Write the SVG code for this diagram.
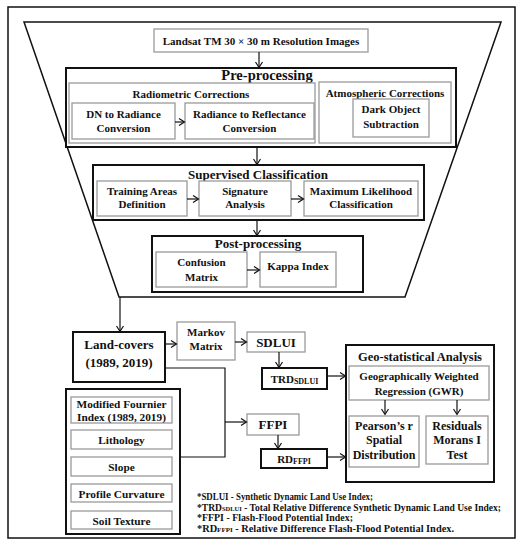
<svg xmlns="http://www.w3.org/2000/svg" width="525" height="550" viewBox="0 0 525 550">
<defs>
<style>
text{font-family:"Liberation Serif","Times New Roman",serif;font-weight:bold;fill:#111;text-anchor:middle}
.g{fill:#fff;stroke:#9a9a9a;stroke-width:1.3}
.k{fill:#fff;stroke:#111;stroke-width:2}
.c{fill:none;stroke:#111;stroke-width:1.2}
.t11{font-size:11px}
.t12{font-size:12px}
.t13{font-size:13px}
.fn{font-size:9.6px;text-anchor:start}
</style>
<marker id="a" markerWidth="8" markerHeight="8" refX="6" refY="4" orient="auto" markerUnits="userSpaceOnUse">
<path d="M1,0.5 L6.5,4 L1,7.5" fill="none" stroke="#111" stroke-width="1.2"/>
</marker>
</defs>
<rect x="0" y="0" width="525" height="550" fill="#fff"/>
<rect x="8" y="7" width="507" height="531" fill="none" stroke="#111" stroke-width="1.5"/>
<polygon points="24,22 501,22 405,297 119,297" fill="none" stroke="#111" stroke-width="1.5"/>

<g id="landsat"><rect class="g" x="154" y="29" width="214" height="23"/><text class="t11" x="261" y="45">Landsat TM 30 × 30 m Resolution Images</text></g>

<g id="preprocessing"><rect class="k" x="66" y="68" width="390" height="79"/><text x="267" y="80" style="font-size:14.5px">Pre-processing</text></g>
<g id="radiometric"><rect class="g" x="69" y="83" width="246" height="60"/><text class="t11" x="191" y="98">Radiometric Corrections</text></g>
<g id="dn"><rect class="g" x="72" y="103" width="103" height="36"/><text class="t11" x="123.5" y="118">DN to Radiance</text><text class="t11" x="123.5" y="132">Conversion</text></g>
<g id="reflectance"><rect class="g" x="185" y="103" width="129" height="36"/><text class="t11" x="249.5" y="118">Radiance to Reflectance</text><text class="t11" x="249.5" y="132">Conversion</text></g>
<g id="atmospheric"><rect class="g" x="319" y="82" width="132" height="61"/><text class="t11" x="385" y="97">Atmospheric Corrections</text></g>
<g id="dos"><rect class="g" x="353" y="99" width="76" height="38"/><text class="t11" x="391" y="113">Dark Object</text><text class="t11" x="391" y="128">Subtraction</text></g>

<g id="supervised"><rect class="k" x="93" y="165" width="331" height="55"/><text class="t13" x="258" y="179">Supervised Classification</text></g>
<g id="training"><rect class="g" x="97" y="181" width="90" height="35"/><text class="t11" x="142" y="195">Training Areas</text><text class="t11" x="142" y="208">Definition</text></g>
<g id="signature"><rect class="g" x="199" y="181" width="92" height="35"/><text class="t11" x="245" y="195">Signature</text><text class="t11" x="245" y="208">Analysis</text></g>
<g id="mlc"><rect class="g" x="304" y="181" width="114" height="35"/><text class="t11" x="361" y="195">Maximum Likelihood</text><text class="t11" x="361" y="208">Classification</text></g>

<g id="postprocessing"><rect class="k" x="152" y="236" width="211" height="56"/><text class="t13" x="258" y="248">Post-processing</text></g>
<g id="confusion"><rect class="g" x="156" y="252" width="91" height="35"/><text class="t11" x="201.5" y="266">Confusion</text><text class="t11" x="201.5" y="281">Matrix</text></g>
<g id="kappa"><rect class="g" x="260" y="252" width="76" height="35"/><text class="t11" x="298" y="270">Kappa Index</text></g>

<g id="landcovers"><rect class="k" x="73" y="332" width="92" height="50"/><text class="t13" x="119" y="349">Land-covers</text><text class="t13" x="119" y="367">(1989, 2019)</text></g>
<g id="markov"><rect class="g" x="177" y="322" width="58" height="38"/><text class="t11" x="206" y="336">Markov</text><text class="t11" x="206" y="350">Matrix</text></g>
<g id="sdlui"><rect class="g" x="247" y="332" width="58" height="20"/><text class="t13" x="276" y="347">SDLUI</text></g>
<g id="trd"><rect class="k" x="262" y="368" width="65" height="21"/><text x="294.5" y="383" style="font-size:11px">TRD<tspan style="font-size:8px" dy="1">SDLUI</tspan></text></g>
<g id="ffpi"><rect class="g" x="247" y="414" width="52" height="21"/><text class="t13" x="273" y="429">FFPI</text></g>
<g id="rd"><rect class="k" x="261" y="449" width="66" height="19"/><text x="294" y="463" style="font-size:11px">RD<tspan style="font-size:8px" dy="1">FFPI</tspan></text></g>

<g id="geo"><rect class="k" x="346" y="345" width="148" height="137"/><text x="420" y="361" style="font-size:12.5px">Geo-statistical Analysis</text></g>
<g id="gwr"><rect class="g" x="349" y="366" width="140" height="34"/><text class="t11" x="419" y="380">Geographically Weighted</text><text class="t11" x="419" y="395">Regression (GWR)</text></g>
<g id="pearson"><rect class="g" x="349" y="416" width="70" height="51"/><text class="t12" x="384" y="430">Pearson’s r</text><text class="t12" x="384" y="444">Spatial</text><text class="t12" x="384" y="459">Distribution</text></g>
<g id="residuals"><rect class="g" x="426" y="416" width="62" height="48"/><text class="t12" x="457" y="430">Residuals</text><text class="t12" x="457" y="444">Morans I</text><text class="t12" x="457" y="459">Test</text></g>

<g id="factors"><rect class="k" x="66" y="389" width="114" height="145"/></g>
<g id="fournier"><rect class="g" x="71" y="397" width="101" height="26"/><text x="121.5" y="408" style="font-size:11.3px">Modified Fournier</text><text x="121.5" y="421" style="font-size:11.3px">Index (1989, 2019)</text></g>
<g id="lithology"><rect class="g" x="71" y="430" width="101" height="19"/><text x="121.5" y="444" style="font-size:11.3px">Lithology</text></g>
<g id="slope"><rect class="g" x="71" y="457" width="101" height="19"/><text x="121.5" y="471" style="font-size:11.3px">Slope</text></g>
<g id="curvature"><rect class="g" x="71" y="484" width="101" height="18"/><text x="121.5" y="497.5" style="font-size:11.3px">Profile Curvature</text></g>
<g id="soil"><rect class="g" x="71" y="511" width="101" height="18"/><text x="121.5" y="524.5" style="font-size:11.3px">Soil Texture</text></g>

<g id="connectors">
<line class="c" x1="259" y1="52" x2="259" y2="67" marker-end="url(#a)"/>
<line class="c" x1="175" y1="122" x2="184" y2="122" marker-end="url(#a)"/>
<line class="c" x1="257" y1="147" x2="257" y2="164" marker-end="url(#a)"/>
<line class="c" x1="187" y1="199" x2="198" y2="199" marker-end="url(#a)"/>
<line class="c" x1="291" y1="199" x2="303" y2="199" marker-end="url(#a)"/>
<line class="c" x1="257" y1="220" x2="257" y2="235" marker-end="url(#a)"/>
<line class="c" x1="247" y1="270" x2="259" y2="270" marker-end="url(#a)"/>
<line class="c" x1="120" y1="297" x2="120" y2="331" marker-end="url(#a)"/>
<line class="c" x1="165" y1="344" x2="176" y2="344" marker-end="url(#a)"/>
<line class="c" x1="235" y1="342" x2="246" y2="342" marker-end="url(#a)"/>
<line class="c" x1="279" y1="352" x2="279" y2="367" marker-end="url(#a)"/>
<line class="c" x1="327" y1="376" x2="345" y2="376" marker-end="url(#a)"/>
<polyline class="c" points="165,368 225,368 225,457 180,457"/>
<line class="c" x1="225" y1="422" x2="246" y2="422" marker-end="url(#a)"/>
<line class="c" x1="278" y1="435" x2="278" y2="448" marker-end="url(#a)"/>
<line class="c" x1="327" y1="457" x2="345" y2="457" marker-end="url(#a)"/>
<line class="c" x1="385" y1="400" x2="385" y2="414" marker-end="url(#a)"/>
<line class="c" x1="457" y1="400" x2="457" y2="414" marker-end="url(#a)"/>
</g>

<g id="footnotes">
<text class="fn" x="197" y="499.5" textLength="176" lengthAdjust="spacingAndGlyphs">*SDLUI - Synthetic Dynamic Land Use Index;</text>
<text class="fn" x="197" y="510.5" textLength="304" lengthAdjust="spacingAndGlyphs">*TRD<tspan style="font-size:6.5px">SDLUI</tspan> - Total Relative Difference Synthetic Dynamic Land Use Index;</text>
<text class="fn" x="197" y="521" textLength="156" lengthAdjust="spacingAndGlyphs">*FFPI - Flash-Flood Potential Index;</text>
<text class="fn" x="197" y="531.5" textLength="257" lengthAdjust="spacingAndGlyphs">*RD<tspan style="font-size:6.5px">FFPI</tspan> - Relative Difference Flash-Flood Potential Index.</text>
</g>
</svg>
